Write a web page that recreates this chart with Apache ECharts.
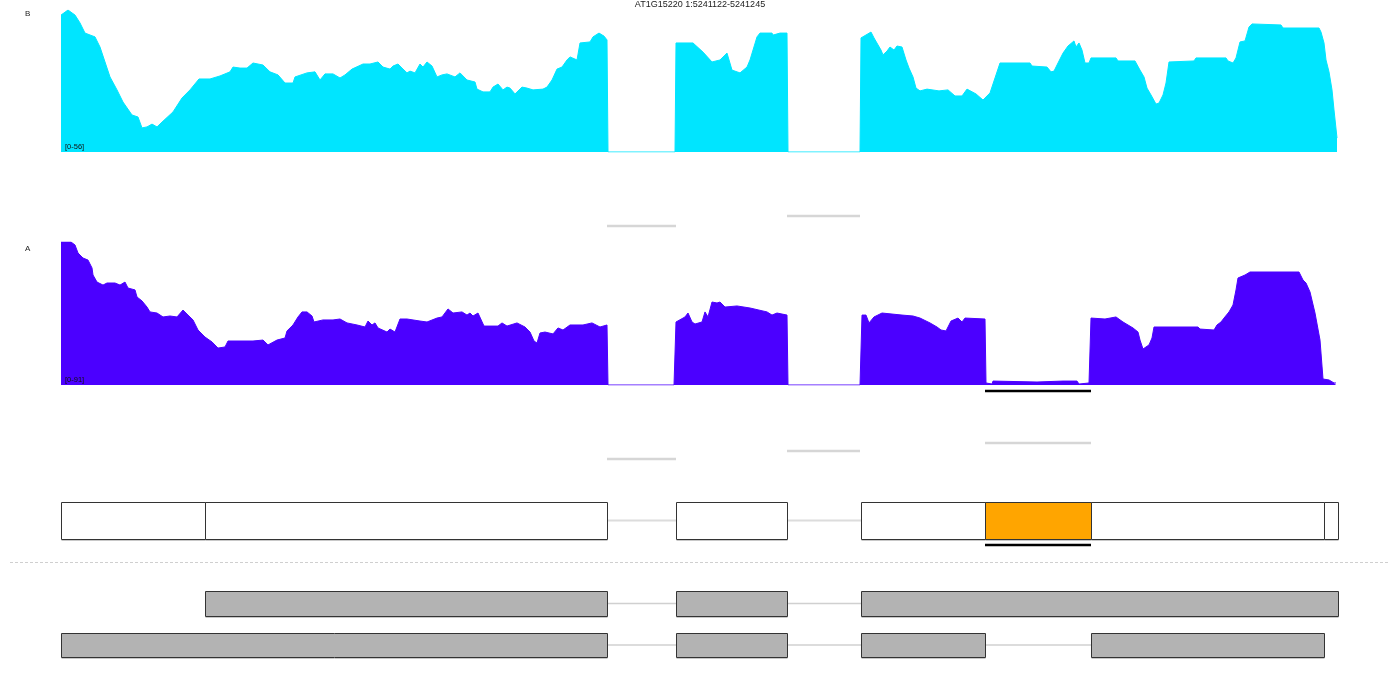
<!DOCTYPE html>
<html>
<head>
<meta charset="utf-8">
<script src="https://cdn.jsdelivr.net/npm/echarts/dist/echarts.min.js"></script>
<style>
html,body{margin:0;padding:0;background:#fff;}
#chart{width:1400px;height:700px;}
</style>
</head>
<body>
<div id="chart"></div>
<script>
// ---------------- DATA ----------------
const titleText = 'AT1G15220 1:5241122-5241245';
const trackNames = ['B', 'A'];
const trackRanges = ['[0-56]', '[0-91]'];
const trackMax = [56, 91];
const regionLength = 1277;

// coverage of track B: [position, depth]
const coverageB = [[0,54.0],[7,56],[14,54.0],[19,50.9],[24,46.9],[34,45.4],[39,41.4],[44,35.5],[49,29.6],[56,24.5],[62,19.7],[71,14.6],[77,13.8],[81,9.5],[86,9.9],[91,11.0],[96,9.9],[101,11.8],[112,15.8],[121,21.3],[129,24.5],[138,28.8],[149,28.8],[159,30.0],[169,31.6],[172,33.5],[179,33.1],[186,33.1],[192,35.1],[202,34.3],[209,31.6],[217,30.4],[224,27.2],[232,27.2],[234,29.6],[246,31.2],[254,31.6],[259,28.4],[264,30.8],[272,30.8],[279,29.2],[284,30.4],[291,32.7],[302,34.7],[309,34.7],[317,35.5],[322,33.5],[329,32.7],[332,33.9],[337,34.7],[341,33.1],[346,31.2],[349,31.9],[354,31.2],[359,34.7],[362,33.5],[366,35.5],[371,33.9],[376,29.6],[381,30.4],[386,30.8],[394,29.6],[399,31.2],[406,28.4],[414,27.6],[416,24.8],[422,23.7],[429,23.7],[432,25.6],[437,26.8],[442,24.5],[446,25.6],[449,25.2],[454,22.9],[461,25.6],[466,25.2],[472,24.5],[482,24.8],[486,25.6],[491,28.4],[496,32.7],[501,33.5],[506,36.3],[509,37.5],[516,36.3],[519,43.0],[529,43.4],[532,45.4],[538,46.9],[543,45.7],[546,44.2],[547,0],[614,0],[615,43.0],[632,43.0],[642,39.4],[651,35.5],[659,36.3],[666,39.0],[671,32.3],[679,31.2],[686,33.5],[689,36.3],[696,45.4],[699,46.9],[711,46.9],[712,46.1],[719,46.9],[726,46.9],[727,0],[799,0],[800,45.0],[810,47.3],[813,45.0],[820,40.2],[822,38.3],[826,39.8],[829,41.4],[833,40.2],[836,41.8],[841,41.4],[845,36.3],[848,33.1],[852,29.6],[855,25.2],[859,24.1],[866,24.8],[878,24.1],[887,24.5],[894,22.1],[901,22.1],[906,24.8],[915,22.9],[922,20.5],[929,23.3],[934,29.2],[939,35.1],[969,35.1],[971,33.9],[986,33.5],[990,31.6],[993,31.9],[997,35.1],[1002,39.0],[1007,41.8],[1013,43.8],[1015,41.4],[1018,43.0],[1021,40.2],[1024,35.1],[1028,35.1],[1030,37.1],[1055,37.1],[1057,35.9],[1074,35.9],[1079,32.3],[1083,29.6],[1086,25.2],[1090,22.5],[1095,18.9],[1098,19.3],[1102,22.5],[1105,27.2],[1108,35.5],[1133,35.9],[1135,37.1],[1165,37.1],[1167,35.9],[1172,35.1],[1175,37.1],[1179,43.4],[1184,43.8],[1188,49.3],[1191,50.5],[1193,50.1],[1220,50.1],[1222,48.9],[1258,48.9],[1260,47.3],[1263,43.0],[1265,36.3],[1268,31.6],[1271,24.5],[1273,16.6],[1276,5.5]];

// coverage of track A: [position, depth]
const coverageA = [[0,91],[10,91],[14,89.1],[17,84.0],[22,80.8],[27,79.5],[31,74.5],[32,70.0],[36,65.5],[42,63.6],[46,64.9],[54,64.9],[59,63.6],[64,65.5],[67,61.7],[74,60.5],[76,56.0],[81,53.5],[86,49.6],[89,46.5],[96,45.8],[102,43.3],[109,43.9],[116,43.3],[122,47.7],[127,44.5],[132,41.4],[137,35.0],[144,30.5],[151,27.4],[157,23.5],[164,24.2],[167,28.0],[179,28.0],[192,28.0],[202,28.6],[207,25.5],[216,28.6],[224,29.9],[226,34.4],[232,38.2],[237,43.3],[241,46.5],[246,46.5],[251,43.9],[253,40.1],[262,41.4],[272,41.4],[279,42.0],[286,39.5],[296,38.2],[304,36.9],[307,40.7],[311,38.2],[314,39.5],[317,36.3],[326,33.7],[329,35.6],[334,33.7],[339,42.0],[346,42.0],[359,40.7],[366,40.1],[376,42.6],[381,43.3],[387,48.4],[392,45.8],[401,46.5],[406,44.5],[409,45.8],[412,43.9],[417,45.8],[423,37.5],[437,37.5],[441,39.5],[446,37.5],[456,39.5],[464,36.9],[469,33.7],[473,28.0],[476,26.7],[479,33.1],[484,33.7],[492,32.5],[497,36.3],[502,35.0],[509,38.2],[522,38.2],[531,39.5],[539,36.9],[546,38.2],[547,0],[613,0],[615,40.1],[624,43.3],[627,45.8],[631,40.1],[634,38.8],[641,40.1],[644,46.5],[647,43.3],[651,52.8],[656,52.2],[659,52.8],[664,49.6],[676,50.3],[689,49.0],[706,46.5],[711,44.5],[716,45.8],[726,44.5],[727,0],[799,0],[801,44.5],[805,44.5],[808,39.5],[813,43.3],[821,45.8],[841,44.5],[852,43.9],[859,42.6],[869,39.5],[876,36.9],[880,35.0],[885,34.4],[887,36.9],[890,40.7],[897,42.6],[901,40.1],[904,42.6],[924,42.0],[925,1.3],[931,0.6],[932,2.5],[976,1.9],[1002,2.5],[1016,2.5],[1018,0.6],[1028,1.3],[1030,42.6],[1044,42.0],[1055,43.3],[1062,40.1],[1072,36.3],[1077,33.7],[1079,28.6],[1082,22.9],[1088,25.5],[1091,29.9],[1093,36.9],[1137,36.9],[1139,35.6],[1153,35.0],[1156,38.2],[1160,40.1],[1163,42.6],[1168,46.5],[1172,50.9],[1175,60.5],[1177,68.1],[1184,70.0],[1189,71.9],[1238,71.9],[1242,66.8],[1245,64.9],[1249,59.2],[1254,45.8],[1259,28.6],[1262,3.8],[1268,3.2],[1273,1.3],[1275,1.3]];

// splice junctions: start, end, track
const junctionStart = [546, 726, 546, 726, 924];
const junctionEnd   = [615, 799, 615, 799, 1030];
const junctionTrack = ['B', 'B', 'A', 'A', 'A'];

// gene model segments (start, end); highlighted segment index
const geneSegments = [[0,144],[144,546],[615,726],[800,924],[924,1030],[1030,1263],[1263,1277]];
const highlightIndex = 4;
const geneExons = [[0,546],[615,726],[800,1277]];

// transcripts
const transcript1 = [[144,546],[615,726],[800,1277]];
const transcript2 = [[0,546],[615,726],[800,924],[1030,1263]];

// ---------------- LAYOUT / STYLE ----------------
const PLOT_LEFT = 61, PLOT_WIDTH = 1277;
const covColors = ['#00E5FF', '#4B00FF'];
const covGrids = [{top: 10, height: 142}, {top: 242, height: 143}];
const LAYOUT = {
  junctionY: {B: [226, 216], A: [459, 451, 443]},
  highlightBarY: [391, 545],
  gene: [502, 539],
  tx: [[591, 616], [633, 657]],
  sepY: 562.5
};

// ---------------- BUILD ----------------
const chart = echarts.init(document.getElementById('chart'), null, {renderer: 'canvas'});

const items = [];
// junction lines
const laneCounter = {B: 0, A: 0};
junctionStart.forEach((s, i) => {
  const t = junctionTrack[i];
  items.push({kind: 'hline', start: s, end: junctionEnd[i], y: LAYOUT.junctionY[t][laneCounter[t]++], color: '#d6d6d6', width: 2.5});
});
// highlight bars
const hl = geneSegments[highlightIndex];
LAYOUT.highlightBarY.forEach(y => items.push({kind: 'hline', start: hl[0], end: hl[1], y: y, color: '#000', width: 2.5}));
// gene model connectors + boxes
for (let i = 0; i < geneExons.length - 1; i++) {
  items.push({kind: 'hline', start: geneExons[i][1], end: geneExons[i + 1][0], y: (LAYOUT.gene[0] + LAYOUT.gene[1]) / 2, color: '#dcdcdc', width: 2});
}
geneSegments.forEach((s, i) => items.push({kind: 'box', start: s[0], end: s[1], top: LAYOUT.gene[0], bottom: LAYOUT.gene[1], fill: i === highlightIndex ? '#FFA500' : '#ffffff'}));
// transcripts
[transcript1, transcript2].forEach((tx, r) => {
  const [top, bottom] = LAYOUT.tx[r];
  for (let i = 0; i < tx.length - 1; i++) {
    items.push({kind: 'hline', start: tx[i][1], end: tx[i + 1][0], y: (top + bottom) / 2, color: '#d0d0d0', width: 1.5});
  }
  tx.forEach(e => items.push({kind: 'box', start: e[0], end: e[1], top: top, bottom: bottom, fill: '#b3b3b3'}));
});

function renderItem(params, api) {
  const it = items[params.dataIndex];
  const p0 = api.coord([it.start, it.kind === 'box' ? it.top : it.y]);
  const p1 = api.coord([it.end, it.kind === 'box' ? it.bottom : it.y]);
  if (it.kind === 'hline') {
    return {type: 'line', shape: {x1: p0[0], y1: p0[1], x2: p1[0], y2: p1[1]},
      style: {stroke: it.color, lineWidth: it.width}};
  }
  const x = Math.round(p0[0]) + 0.5, y = Math.round(p0[1]) + 0.5;
  const w = Math.round(p1[0]) - Math.round(p0[0]), h = Math.round(p1[1]) - Math.round(p0[1]);
  return {type: 'group', children: [
    {type: 'line', shape: {x1: x, y1: y + h + 1, x2: x + w, y2: y + h + 1}, style: {stroke: '#c8c8c8', lineWidth: 1}},
    {type: 'rect', shape: {x: x, y: y, width: w, height: h}, style: {fill: it.fill, stroke: '#333', lineWidth: 1}}
  ]};
}

const grids = covGrids.map(g => ({left: PLOT_LEFT, width: PLOT_WIDTH, top: g.top, height: g.height}));
grids.push({left: PLOT_LEFT, width: PLOT_WIDTH, top: 0, height: 700});

const xAxes = grids.map((g, i) => ({type: 'value', gridIndex: i, min: 0, max: regionLength, show: false}));
const yAxes = [
  {type: 'value', gridIndex: 0, min: 0, max: trackMax[0], show: false},
  {type: 'value', gridIndex: 1, min: 0, max: trackMax[1], show: false},
  {type: 'value', gridIndex: 2, min: 0, max: 700, inverse: true, show: false}
];

const covSeries = [coverageB, coverageA].map((d, i) => ({
  type: 'line', xAxisIndex: i, yAxisIndex: i, data: d, symbol: 'none', silent: true,
  lineStyle: {color: covColors[i], width: 1},
  areaStyle: {color: covColors[i], opacity: 1},
  z: 2
}));

const labelFont = '"Liberation Sans", Arial, sans-serif';
const graphics = [
  {type: 'line', shape: {x1: 10, y1: LAYOUT.sepY, x2: 1390, y2: LAYOUT.sepY}, style: {stroke: '#cfcfcf', lineWidth: 1, lineDash: [3, 2]}, z: 0}
];
trackNames.forEach((n, i) => {
  graphics.push({type: 'text', left: 25, top: covGrids[i].top + (i === 0 ? 0 : 3), style: {text: n, font: '8px ' + labelFont, fill: '#222'}, z: 10});
  graphics.push({type: 'text', left: 65, top: covGrids[i].top + covGrids[i].height - 9, style: {text: trackRanges[i], font: '7.5px ' + labelFont, fill: '#111'}, z: 10});
});

chart.setOption({
  animation: false,
  backgroundColor: '#ffffff',
  title: {text: titleText, left: 'center', top: 0, padding: 0, textStyle: {fontSize: 9, fontWeight: 'normal', color: '#222', fontFamily: labelFont}},
  grid: grids,
  xAxis: xAxes,
  yAxis: yAxes,
  graphic: graphics,
  series: covSeries.concat([{
    type: 'custom', xAxisIndex: 2, yAxisIndex: 2, silent: true, z: 3,
    data: items.map((_, i) => [i]),
    renderItem: renderItem,
    clip: false
  }])
});
</script>
</body>
</html>
